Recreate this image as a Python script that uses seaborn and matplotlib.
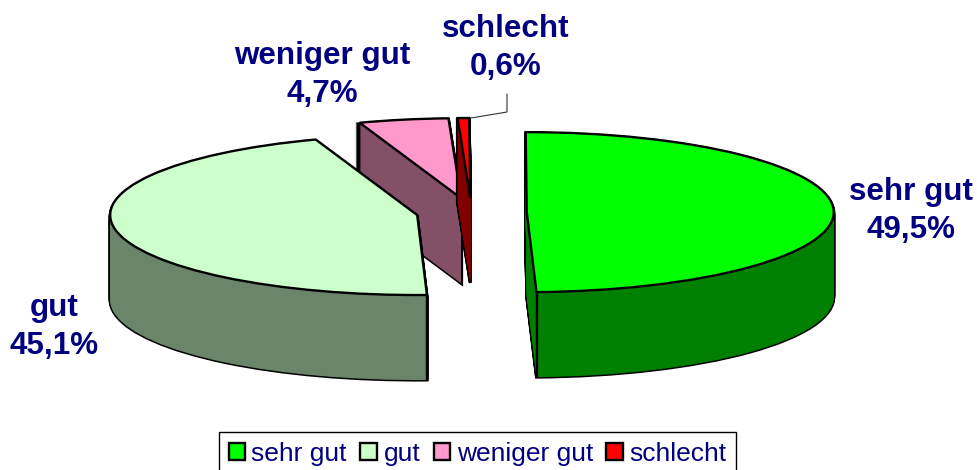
import matplotlib
matplotlib.use("Agg")
import matplotlib.pyplot as plt
from matplotlib.patches import Patch
import seaborn as sns
import numpy as np

# Werte aus dem Bild
categories = ["sehr gut", "gut", "weniger gut", "schlecht"]
values = [49.5, 45.1, 4.7, 0.6]
value_labels = ["49,5%", "45,1%", "4,7%", "0,6%"]

top_colors = sns.color_palette(["#00FF00", "#CCFFCC", "#FF99CC", "#FF0000"])
wall_colors = sns.color_palette(["#008000", "#6A856A", "#845068", "#800000"])
navy = "#000080"

W, H = 978, 470
# Pixel pro Dateneinheit (gestauchte Ellipse)
rx, ry = 307, 80
cx, cy = 471.5, 212.4
depth = 85
explode = [0.18] * 4
# Zeichenreihenfolge: hintere Stuecke zuerst
order = {2: 1, 3: 2, 1: 3, 0: 4}

sns.set_theme(style="white")
plt.rcParams["font.family"] = ["Liberation Sans", "DejaVu Sans"]

fig = plt.figure(figsize=(W / 100, H / 100), dpi=100, facecolor="white")
ax = fig.add_axes([0, 0, 1, 1])


def draw_layer(offset, faces, edge, lw, z):
    wedges, _ = ax.pie(values, explode=explode, startangle=90.2, counterclock=False,
                       center=(0, -offset / ry), colors=faces,
                       wedgeprops={"edgecolor": edge, "linewidth": lw, "joinstyle": "miter"})
    for i, w in enumerate(wedges):
        w.set_zorder(order[i] + z)
    return wedges


# Seitenwaende: erst schwarze Silhouette, dann Farbe
offsets = np.arange(depth, 0, -1)
for off in offsets:
    draw_layer(off, wall_colors, "black", 2.2, 0.1)
for off in offsets:
    wedges = draw_layer(off, wall_colors, "none", 0, 0.3)

# Deckflaeche
tops = draw_layer(0, top_colors, "black", 1.7, 0.6)

# Kante vorne an den beiden grossen Stuecken
for w, theta in [(tops[0], tops[0].theta1), (tops[1], tops[1].theta2)]:
    x = w.center[0] + np.cos(np.radians(theta))
    y = w.center[1] + np.sin(np.radians(theta))
    idx = 0 if w is tops[0] else 1
    ax.plot([x, x], [y, y - depth / ry], color="black", lw=1.7, zorder=order[idx] + 0.7,
            solid_capstyle="butt")

ax.set_aspect("auto")
ax.set_xlim(-cx / rx, (W - cx) / rx)
ax.set_ylim(-(H - cy) / ry, cy / ry)
ax.axis("off")


def fx(px):
    return px / W


def fy(py):
    return 1 - py / H


# Beschriftung
label_pos = [(911, 211), (54, 327), (322, 75), (506, 48)]
for name, val, (px, py) in zip(categories, value_labels, label_pos):
    fig.text(fx(px), fy(py), f"{name}\n{val}", ha="center", va="center", color=navy,
             fontsize=22.6, fontweight="bold", linespacing=1.38)

# Fuehrungslinie zu "schlecht"
fig.add_artist(plt.Line2D([fx(471), fx(507), fx(507)], [fy(118), fy(112), fy(94)],
                          color="#333333", lw=0.8))

# Legende
handles = [Patch(facecolor=c, edgecolor="black", linewidth=1.7) for c in top_colors]
leg = fig.legend(handles, categories, loc="lower center", ncol=4, fontsize=19,
                 bbox_to_anchor=(fx(477.5), fy(475)), fancybox=False, framealpha=1,
                 edgecolor="black", labelcolor=navy, handlelength=0.62, handleheight=0.62,
                 handletextpad=0.25, columnspacing=0.51, borderpad=0.36, borderaxespad=0)
leg.get_frame().set_linewidth(1.0)

fig.savefig("out.png", dpi=100, facecolor="white")
